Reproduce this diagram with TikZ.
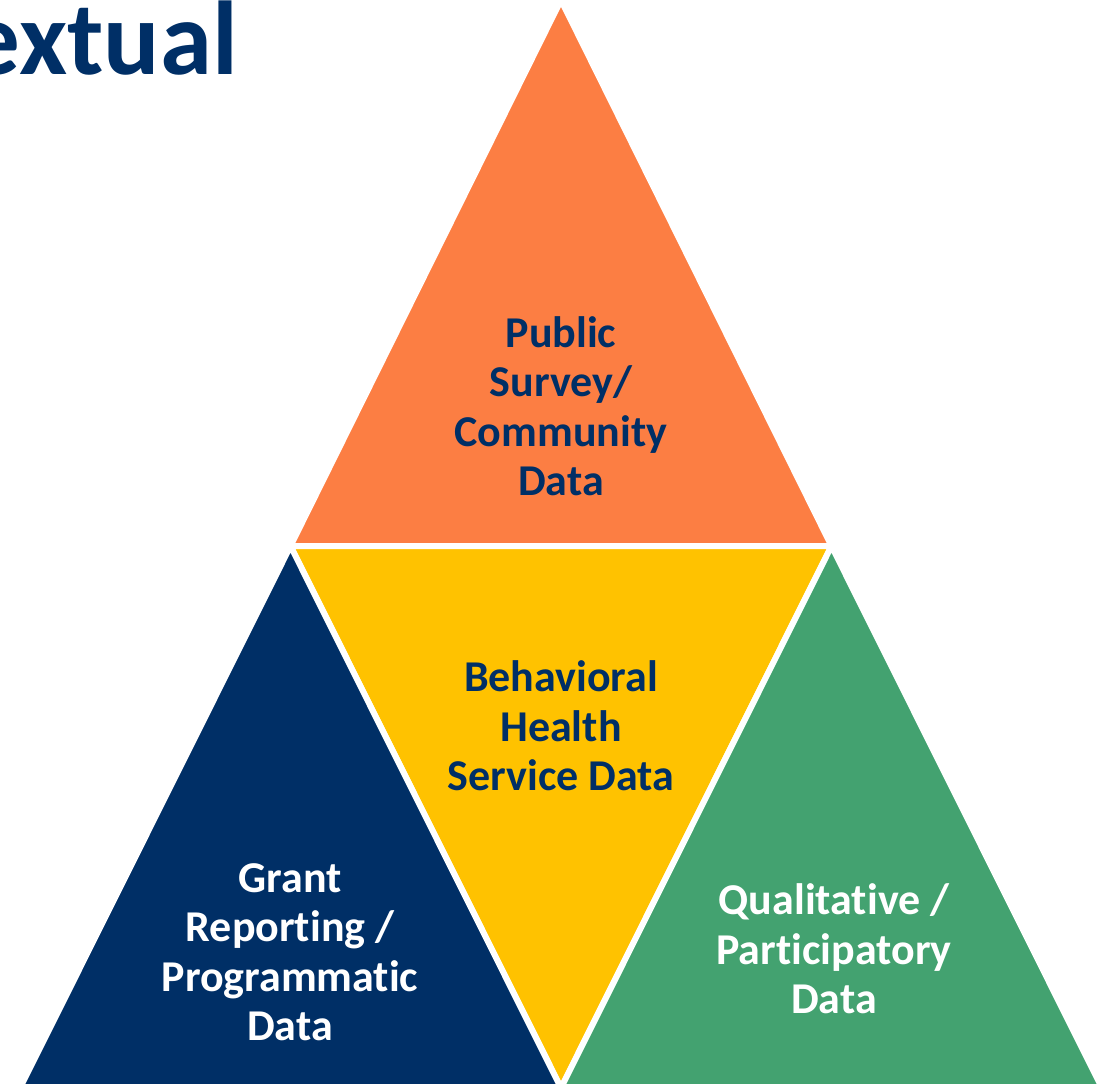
\documentclass[tikz,border=0pt]{standalone}
\usepackage{fontspec}
\setmainfont[Ligatures=NoCommon]{Carlito}
\usepackage{xcolor}
\definecolor{navy}{HTML}{002F66}
\definecolor{tangerine}{HTML}{FC7E43}
\definecolor{gold}{HTML}{FFC200}
\definecolor{jade}{HTML}{43A270}

\tikzset{
	piece/.style={draw=white, line width=6pt, line join=miter},
	label/.style={align=center, inner sep=0pt, font=\bfseries\fontsize{44}{49.5}\selectfont}
}

\begin{document}
\begin{tikzpicture}[x=1pt, y=-1pt]
	\useasboundingbox (0,0) rectangle (1117,1084);
	% corners of the big triangle and the midpoints of its sides
	\coordinate (top) at (561, 0);
	\coordinate (bl) at (20, 1088);
	\coordinate (br) at (1102, 1088);
	\coordinate (ml) at (290.5, 546);
	\coordinate (mr) at (831.5, 546);
	\coordinate (mb) at (561, 1088);

	\fill[tangerine, piece] (top) -- (mr) -- (ml) -- cycle;
	\fill[gold, piece] (ml) -- (mr) -- (mb) -- cycle;
	\fill[navy, piece] (ml) -- (mb) -- (bl) -- cycle;
	\fill[jade, piece] (mr) -- (br) -- (mb) -- cycle;

	\node (title) [anchor=base east, inner sep=0pt, text=navy, font=\bfseries\fontsize{105}{110}\selectfont] at (238, 74) {extual};

	\node (survey) [label, text=navy] at (561, 406) {Public\\Survey/\\Community\\Data};
	\node (service) [label, text=navy] at (561, 726) {Behavioral\\Health\\Service Data};
	\node (grant) [label, text=white] at (290, 952) {Grant\\Reporting /\\Programmatic\\Data};
	\node (quali) [label, text=white] at (834, 949) {Qualitative /\\Participatory\\Data};
\end{tikzpicture}
\end{document}
